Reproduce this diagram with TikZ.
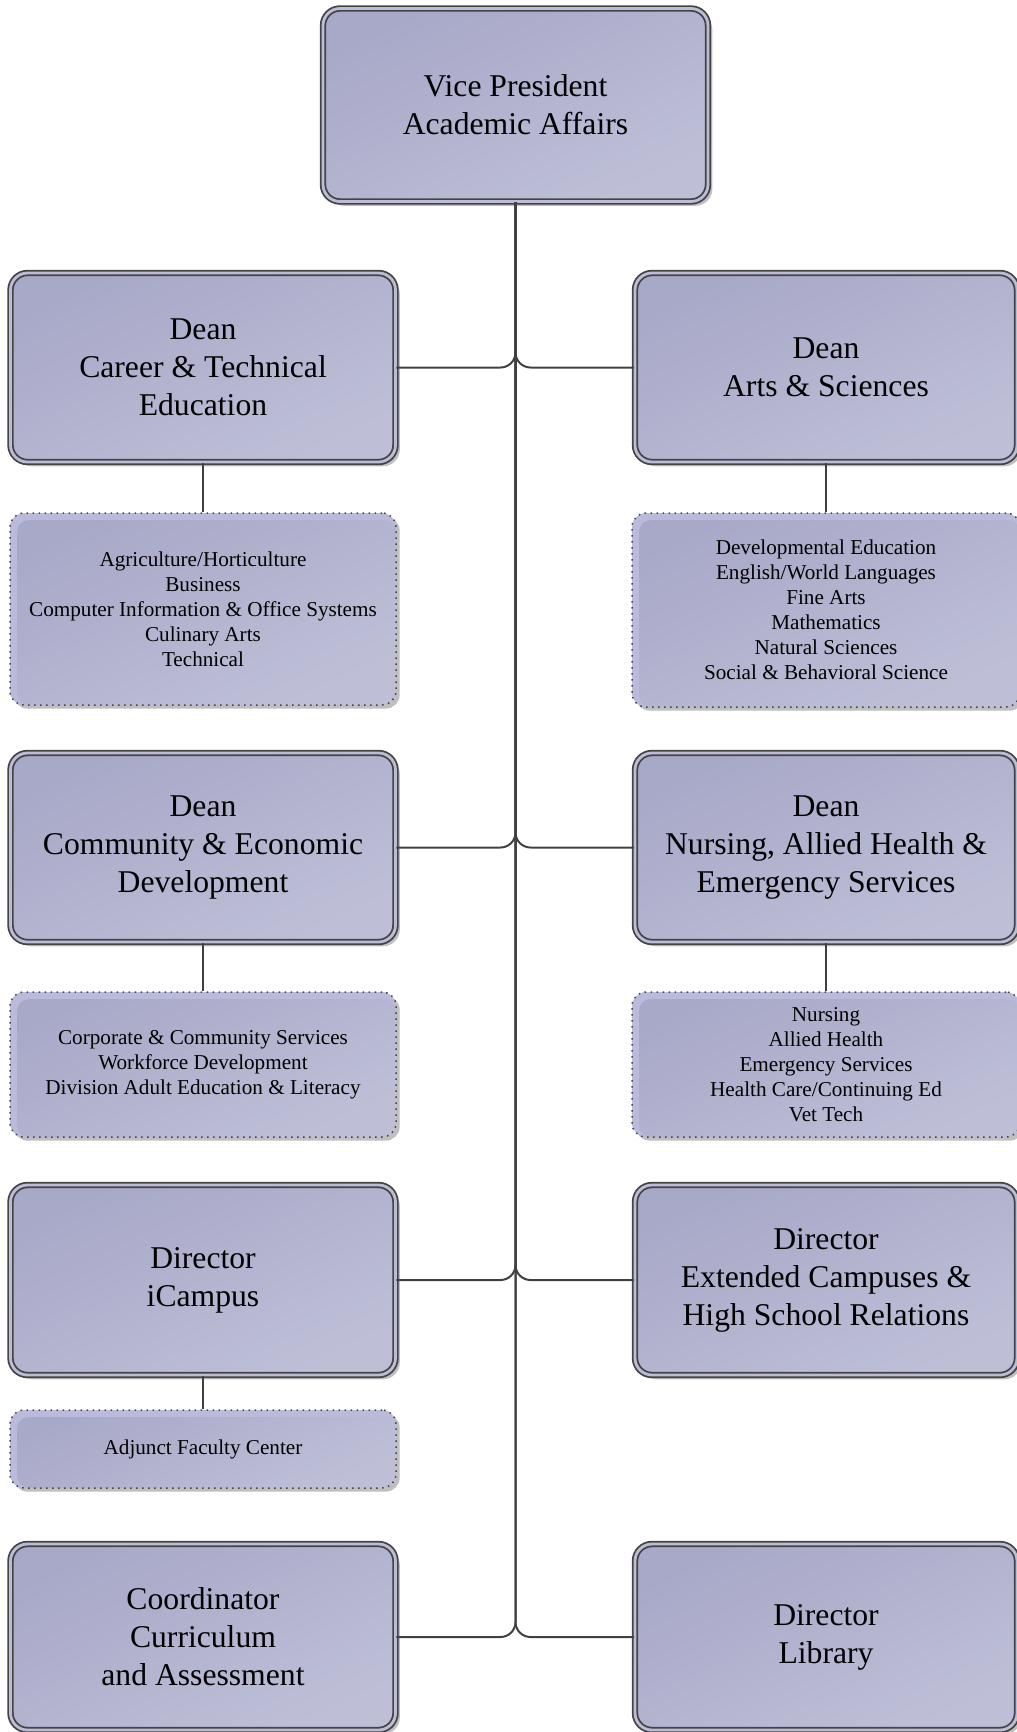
\documentclass[tikz,border=0pt]{standalone}
\usepackage{fontspec}
\setmainfont{Liberation Serif}
\usetikzlibrary{shadows,calc}

% one drawing unit
\newcommand\pxu{0.6pt}
\newcommand\bigtext{\fontsize{19}{22.8}\selectfont}
\newcommand\smalltext{\fontsize{12.7}{15}\selectfont}

\definecolor{fillA}{HTML}{A8A8C8}
\definecolor{fillB}{HTML}{BEBFD7}
\definecolor{bandcol}{HTML}{BCBCD7}
\definecolor{bandlight}{HTML}{BABADB}
\definecolor{bordergray}{HTML}{444444}
\definecolor{linegray}{HTML}{404040}

\tikzset{
  orgbox/.style={rectangle, rounded corners=17*\pxu,
    draw=bordergray, line width=1.8*\pxu, double=bandcol, double distance=2.8*\pxu,
    top color=fillA, bottom color=fillB, shading angle=25,
    drop shadow={shadow xshift=2.6pt, shadow yshift=-2.6pt, opacity=.25, fill=black},
    align=center, inner sep=0pt, font=\bigtext},
  unitbox/.style={rectangle, rounded corners=14*\pxu,
    fill=bandlight, draw=bordergray, line width=1.5*\pxu,
    dash pattern=on 0.9pt off 2.7pt,
    drop shadow={shadow xshift=2.2pt, shadow yshift=-2.2pt, opacity=.25, fill=black},
    path picture={\shade[top color=fillA, bottom color=fillB, shading angle=25,
      rounded corners=12*\pxu]
      ($(path picture bounding box.north west)+(7,7)$) rectangle
      (path picture bounding box.south east);},
    align=center, inner sep=0pt, font=\smalltext},
  conn/.style={draw=linegray, line width=2*\pxu, rounded corners=15*\pxu},
  tie/.style={draw=linegray, line width=2*\pxu}
}

\begin{document}
\begin{tikzpicture}[x=\pxu, y=-\pxu]
\useasboundingbox (0,0) rectangle (1016,1732);

% top
\node[orgbox, minimum width=385*\pxu, minimum height=193*\pxu] (vp) at (515.5,105)
  {Vice President\\Academic Affairs};

% left column
\node[orgbox, minimum width=385*\pxu, minimum height=189*\pxu] (cte) at (203,367.5)
  {Dean\\Career \& Technical\\Education};
\node[unitbox, minimum width=386*\pxu, minimum height=192*\pxu] (cteu) at (203,609)
  {Agriculture/Horticulture\\Business\\Computer Information \& Office Systems\\Culinary Arts\\Technical};
\node[orgbox, minimum width=385*\pxu, minimum height=189*\pxu] (ced) at (203,847.5)
  {Dean\\Community \& Economic\\Development};
\node[unitbox, minimum width=386*\pxu, minimum height=145*\pxu] (cedu) at (203,1064.5)
  {Corporate \& Community Services\\Workforce Development\\Division Adult Education \& Literacy};
\node[orgbox, minimum width=385*\pxu, minimum height=190*\pxu] (ica) at (203,1280)
  {Director\\iCampus};
\node[unitbox, minimum width=386*\pxu, minimum height=78*\pxu] (icau) at (203,1449)
  {Adjunct Faculty Center};
\node[orgbox, minimum width=385*\pxu, minimum height=186*\pxu] (cur) at (203,1637)
  {Coordinator\\Curriculum\\and Assessment};

% right column
\node[orgbox, minimum width=382*\pxu, minimum height=189*\pxu] (as) at (826,367.5)
  {Dean\\Arts \& Sciences};
\node[unitbox, minimum width=388*\pxu, minimum height=194*\pxu] (asu) at (826,610)
  {Developmental Education\\English/World Languages\\Fine Arts\\Mathematics\\Natural Sciences\\Social \& Behavioral Science};
\node[orgbox, minimum width=382*\pxu, minimum height=189*\pxu] (nur) at (826,847.5)
  {Dean\\Nursing, Allied Health \&\\Emergency Services};
\node[unitbox, minimum width=388*\pxu, minimum height=145*\pxu] (nuru) at (826,1064.5)
  {Nursing\\Allied Health\\Emergency Services\\Health Care/Continuing Ed\\Vet Tech};
\node[orgbox, minimum width=382*\pxu, minimum height=190*\pxu] (ext) at (826,1280)
  {Director\\Extended Campuses \&\\High School Relations};
\node[orgbox, minimum width=382*\pxu, minimum height=186*\pxu] (lib) at (826,1637)
  {Director\\Library};

% reporting lines from the vice president
\foreach \b in {cte,ced,ica,cur}
  \draw[conn] (vp.south) |- (\b.east);
\foreach \b in {as,nur,ext,lib}
  \draw[conn] (vp.south) |- (\b.west);

% departments under each head
\draw[tie] (cte.south) -- (cteu.north);
\draw[tie] (ced.south) -- (cedu.north);
\draw[tie] (ica.south) -- (icau.north);
\draw[tie] (as.south) -- (asu.north);
\draw[tie] (nur.south) -- (nuru.north);
\end{tikzpicture}
\end{document}
